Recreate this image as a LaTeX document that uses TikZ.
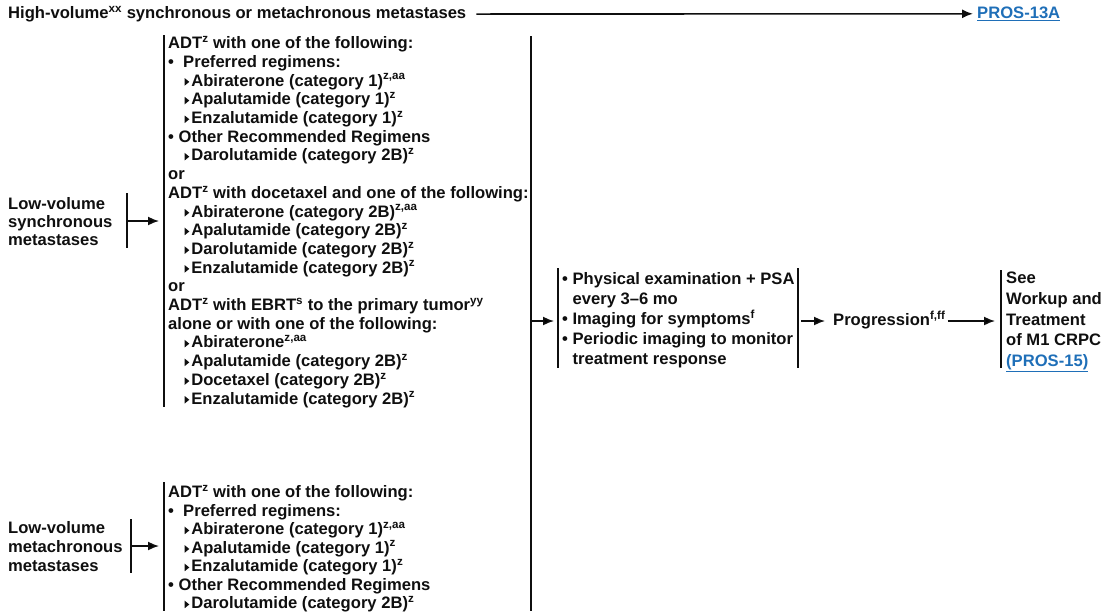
\documentclass[tikz,border=0pt]{standalone}
\usepackage{fontspec}
\setmainfont{Liberation Sans}
\usetikzlibrary{arrows.meta}
\definecolor{linkblue}{RGB}{31,111,184}
\definecolor{ink}{RGB}{15,15,15}
% fixed line pitch, even on lines carrying superscripts
\setlength{\lineskiplimit}{-30pt}
% small right-pointing triangle used as a sub-bullet
\newcommand\subtri{\tikz[baseline=0pt]\fill[ink] (0pt,0.5pt) -- (0pt,8pt) -- (4.6pt,4.25pt) -- cycle;}
\newcommand\sub{\hspace*{16.5pt}\subtri\hspace{2pt}}
\newcommand\fn[1]{\textsuperscript{#1}}
\newcommand\firstline{\rule{0pt}{15pt}}
\begin{document}
\begin{tikzpicture}[x=1pt,y=-1pt,
  txt/.style={inner sep=0pt, align=left, text=ink,
    font=\fontsize{16.6}{18.7}\selectfont\bfseries},
  link/.style={txt, text=linkblue},
  rulebar/.style={draw=ink, line width=2.4pt},
  arr/.style={draw=ink, line width=1.6pt, -{Latex[length=11pt,width=9pt]}}]
\useasboundingbox (0,0) rectangle (1103,611);

% ---------- high-volume branch ----------
\node[txt, anchor=base west] (hv) at (8,18.5)
  {High-volume\fn{xx} synchronous or metachronous metastases};
\node[link, anchor=base west] (p13) at (977,18.5) {\underline{PROS-13A}};
\draw[arr] ([xshift=10pt]hv.east) -- ([xshift=-4pt]p13.west);

% ---------- low-volume synchronous ----------
\node[txt, anchor=north west, font=\fontsize{16.6}{18}\selectfont\bfseries] (syn) at (8,194.5)
  {\firstline Low-volume\\synchronous\\metastases};
\coordinate (synbar) at (127,221);
\draw[rulebar] (127,193) -- (127,248);

\coordinate (b1left) at (164,221);
\draw[rulebar] (164,35) -- (164,407);
\node[txt, anchor=north west] (b1) at (168,33.5)
  {\firstline ADT\fn{z} with one of the following:\\
   \textbullet\ \ Preferred regimens:\\
   \sub Abiraterone (category 1)\fn{z,aa}\\
   \sub Apalutamide (category 1)\fn{z}\\
   \sub Enzalutamide (category 1)\fn{z}\\
   \textbullet\ Other Recommended Regimens\\
   \sub Darolutamide (category 2B)\fn{z}\\
   or\\
   ADT\fn{z} with docetaxel and one of the following:\\
   \sub Abiraterone (category 2B)\fn{z,aa}\\
   \sub Apalutamide (category 2B)\fn{z}\\
   \sub Darolutamide (category 2B)\fn{z}\\
   \sub Enzalutamide (category 2B)\fn{z}\\
   or\\
   ADT\fn{z} with EBRT\fn{s} to the primary tumor\fn{yy}\\
   alone or with one of the following:\\
   \sub Abiraterone\fn{z,aa}\\
   \sub Apalutamide (category 2B)\fn{z}\\
   \sub Docetaxel (category 2B)\fn{z}\\
   \sub Enzalutamide (category 2B)\fn{z}};
\draw[arr] (synbar) -- ([xshift=-5pt]b1left);

% ---------- low-volume metachronous ----------
\node[txt, anchor=north west, font=\fontsize{16.6}{19}\selectfont\bfseries] (meta) at (8,518.5)
  {\firstline Low-volume\\metachronous\\metastases};
\coordinate (metabar) at (131,546);
\draw[rulebar] (131,519) -- (131,573);

\coordinate (b2left) at (164,546);
\draw[rulebar] (164,482) -- (164,611);
\node[txt, anchor=north west, font=\fontsize{16.6}{18.5}\selectfont\bfseries] (b2) at (168,482.5)
  {\firstline ADT\fn{z} with one of the following:\\
   \textbullet\ \ Preferred regimens:\\
   \sub Abiraterone (category 1)\fn{z,aa}\\
   \sub Apalutamide (category 1)\fn{z}\\
   \sub Enzalutamide (category 1)\fn{z}\\
   \textbullet\ Other Recommended Regimens\\
   \sub Darolutamide (category 2B)\fn{z}};
\draw[arr] (metabar) -- ([xshift=-5pt]b2left);

% ---------- shared right edge of the treatment column ----------
\draw[rulebar] (531,36) -- (531,611);
\coordinate (treatout) at (531,321);

% ---------- follow-up ----------
\coordinate (fuleft) at (558,321);
\draw[rulebar] (558,268) -- (558,368);
\draw[rulebar] (798,268) -- (798,368);
\coordinate (furight) at (798,321);
\node[txt, anchor=north west, font=\fontsize{16.6}{20}\selectfont\bfseries] (fu) at (562,269.5)
  {\firstline\textbullet\ Physical examination + PSA\\
   \phantom{\textbullet\ }every 3–6 mo\\
   \textbullet\ Imaging for symptoms\fn{f}\\
   \textbullet\ Periodic imaging to monitor\\
   \phantom{\textbullet\ }treatment response};
\draw[arr] (treatout) -- ([xshift=-4pt]fuleft);

% ---------- progression ----------
\node[txt, anchor=base west] (prog) at (833,325.5) {Progression\fn{f,ff}};
\draw[arr] ([xshift=3pt]furight) -- ([xshift=-8pt]prog.west |- furight);

% ---------- next step ----------
\coordinate (nextleft) at (1001,321);
\draw[rulebar] (1001,270) -- (1001,368);
\node[txt, anchor=north west, font=\fontsize{16.6}{20.75}\selectfont\bfseries] (next) at (1006,268.5)
  {\firstline See\\Workup and\\Treatment\\of M1 CRPC\\\textcolor{linkblue}{\underline{(PROS-15)}}};
\draw[arr] ([xshift=2pt]prog.east |- nextleft) -- ([xshift=-6pt]nextleft);
\end{tikzpicture}
\end{document}
